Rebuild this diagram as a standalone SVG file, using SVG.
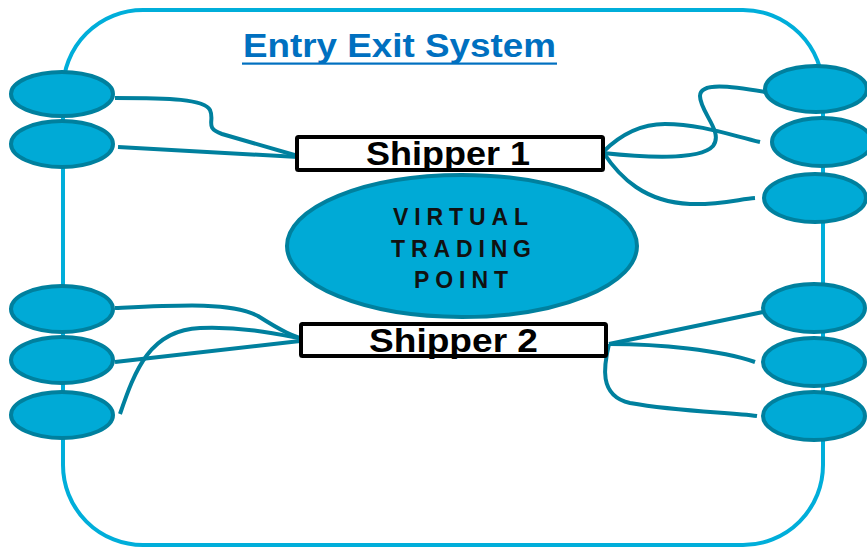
<svg xmlns="http://www.w3.org/2000/svg" width="867" height="548" viewBox="0 0 867 548">
  <style>
    .frame { fill: none; stroke: #00AEDA; stroke-width: 4; }
    .point { fill: #00AAD6; stroke: #00809E; stroke-width: 4; }
    .link { fill: none; stroke: #00809E; stroke-width: 4; stroke-linecap: butt; }
    .box { fill: #FFFFFF; stroke: #000000; stroke-width: 4; }
    .lbl { font-family: "Liberation Sans", Arial, sans-serif; font-weight: bold; fill: #000000; }
    .title { font-family: "Liberation Sans", Arial, sans-serif; font-weight: bold; fill: #0070C0; font-size: 33px; }
    .vtp { font-family: "Liberation Sans", Arial, sans-serif; font-weight: bold; fill: #111111; font-size: 23px; }
  </style>

  <!-- system boundary -->
  <rect id="system" class="frame" x="63" y="10" width="760" height="535" rx="80" ry="80"/>

  <g id="title">
    <text class="title" x="243" y="57" textLength="313" lengthAdjust="spacingAndGlyphs">Entry Exit System</text>
    <rect x="242" y="62.5" width="315" height="2.2" fill="#0070C0"/>
  </g>

  <!-- connectors between entry/exit points and shippers -->
  <g id="connectors">
    <path class="link" d="M115,98 C170,98 204,99 210,110 C215,121 204,128 222,134 L298,156"/>
    <path class="link" d="M118,147 L298,157"/>
    <path class="link" d="M603,153 C640,157 700,161 713,146 C724,132 700,112 700,96 C700,82 730,86 765,92"/>
    <path class="link" d="M603,152 C620,135 640,124 665,124 C700,124 730,135 760,142"/>
    <path class="link" d="M603,152 C620,178 645,202 690,204 C720,205 740,199 755,198"/>
    <path class="link" d="M115,308 C180,305 232,302 258,316 C280,330 295,338 309,340"/>
    <path class="link" d="M115,362 L309,340"/>
    <path class="link" d="M120,414 C135,370 150,330 200,328 C250,326 290,337 309,340"/>
    <path class="link" d="M609,344 L763,312"/>
    <path class="link" d="M609,344 C660,344 720,350 755,362"/>
    <path class="link" d="M609,344 C604,365 598,396 630,403 C680,412 730,412 757,416"/>
  </g>

  <!-- entry/exit points, left side -->
  <ellipse id="entry-l1" class="point" cx="62" cy="94" rx="51" ry="22"/>
  <ellipse id="entry-l2" class="point" cx="62" cy="144" rx="51" ry="23"/>
  <ellipse id="entry-l3" class="point" cx="62" cy="309" rx="51" ry="23"/>
  <ellipse id="entry-l4" class="point" cx="62" cy="360" rx="51" ry="23"/>
  <ellipse id="entry-l5" class="point" cx="62" cy="415" rx="51" ry="23"/>

  <!-- entry/exit points, right side -->
  <ellipse id="exit-r1" class="point" cx="816" cy="89" rx="51" ry="23"/>
  <ellipse id="exit-r2" class="point" cx="822" cy="142" rx="50" ry="24"/>
  <ellipse id="exit-r3" class="point" cx="815" cy="198" rx="51" ry="24"/>
  <ellipse id="exit-r4" class="point" cx="814" cy="308" rx="51" ry="24"/>
  <ellipse id="exit-r5" class="point" cx="814" cy="362" rx="51" ry="24"/>
  <ellipse id="exit-r6" class="point" cx="814" cy="416" rx="51" ry="24"/>

  <!-- virtual trading point -->
  <g id="vtp">
    <ellipse class="point" cx="462" cy="246" rx="175" ry="71"/>
    <text class="vtp" x="393" y="225" textLength="135" lengthAdjust="spacing">VIRTUAL</text>
    <text class="vtp" x="391" y="257" textLength="140" lengthAdjust="spacing">TRADING</text>
    <text class="vtp" x="414" y="288" textLength="94" lengthAdjust="spacing">POINT</text>
  </g>

  <g id="shipper1">
    <rect class="box" x="297" y="137" width="306" height="33" rx="1.5"/>
    <text class="lbl" x="366" y="165" font-size="33" textLength="164" lengthAdjust="spacingAndGlyphs">Shipper 1</text>
  </g>

  <g id="shipper2">
    <rect class="box" x="301" y="324" width="305" height="32" rx="1.5"/>
    <text class="lbl" x="369" y="352" font-size="33" textLength="169" lengthAdjust="spacingAndGlyphs">Shipper 2</text>
  </g>
</svg>
